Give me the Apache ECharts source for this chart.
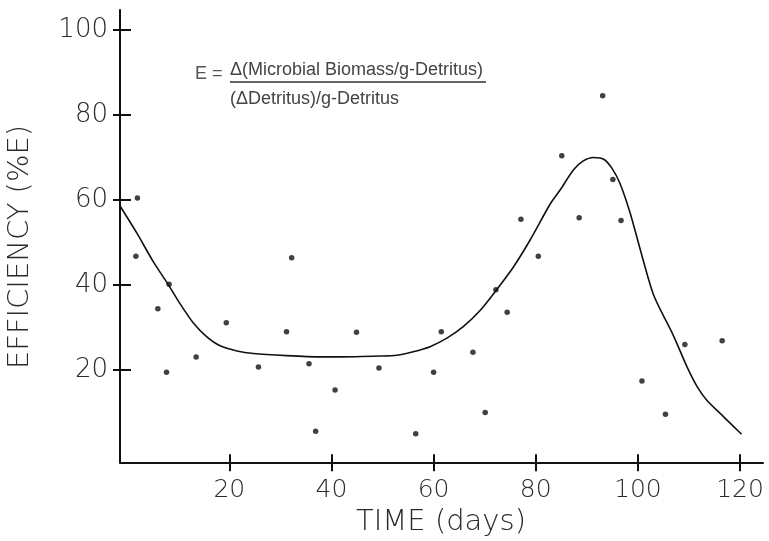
<!DOCTYPE html>
<html>
<head>
<meta charset="utf-8">
<script src="https://cdn.jsdelivr.net/npm/echarts@6/dist/echarts.min.js"></script>
<style>html,body{margin:0;padding:0;background:#fff;}#c{width:769px;height:541px;}</style>
</head>
<body>
<div id="c"></div>
<script>
const xTicks = [20, 40, 60, 80, 100, 120];
const yTicks = [20, 40, 60, 80, 100];
const scatterDays = [2.0, 1.7, 8.2, 6.0, 7.7, 13.5, 19.4, 32.2, 25.7, 31.2, 35.6, 36.9, 40.7, 44.9, 49.3, 56.5, 60.0, 61.5, 67.7, 70.1, 72.2, 74.4, 77.1, 80.5, 85.1, 88.5, 93.1, 95.1, 96.7, 100.8, 105.4, 109.2, 116.5];
const scatterEff = [60.5, 46.8, 40.2, 34.4, 19.5, 23.1, 31.1, 46.4, 20.7, 29.0, 21.5, 5.6, 15.3, 28.9, 20.5, 5.0, 19.5, 29.0, 24.2, 10.0, 38.9, 33.6, 55.5, 46.8, 70.4, 55.8, 84.5, 64.8, 55.2, 17.4, 9.6, 26.0, 26.9];
const curveDays = [-1.4, 1.9, 5.1, 8.2, 10.3, 13.0, 15.6, 18.2, 21.5, 24.7, 31.2, 37.8, 41.7, 49.5, 52.8, 56.0, 59.3, 62.6, 65.8, 69.1, 72.4, 75.6, 78.9, 82.8, 84.8, 87.4, 89.3, 91.3, 93.3, 94.9, 96.5, 98.5, 100.5, 103.1, 107.0, 109.6, 111.6, 113.5, 116.8, 120.3];
const curveEff = [58.6, 52.2, 45.5, 39.8, 35.7, 31.0, 27.8, 25.7, 24.5, 23.9, 23.4, 23.1, 23.1, 23.3, 23.5, 24.3, 25.5, 27.5, 30.2, 34.0, 39.0, 44.2, 50.6, 59.0, 62.4, 67.1, 69.2, 70.0, 69.6, 67.5, 63.9, 56.9, 48.2, 37.6, 28.0, 20.8, 16.1, 12.9, 9.0, 4.9];
const xName = 'TIME (days)';
const yName = 'EFFICIENCY (%E)';
const eqLeft = 'E =';
const eqNum = '\u0394(Microbial Biomass/g-Detritus)';
const eqDen = '(\u0394Detritus)/g-Detritus';

const FONT = '"DejaVu Sans", sans-serif';
const EQFONT = '"Liberation Sans", Arial, sans-serif';
const TXT = '#2a2a2a';
const INK = '#111';

const chart = echarts.init(document.getElementById('c'), null, {renderer: 'canvas'});
const X_MIN = -1.41, X_MAX = 124.5, Y_MIN = -1.7, Y_MAX = 104.7;
function xAxisBase(extra) {
  return Object.assign({
    type: 'value', min: X_MIN, max: X_MAX, gridIndex: 0, position: 'bottom',
    splitLine: {show: false}
  }, extra);
}
function yAxisBase(extra) {
  return Object.assign({
    type: 'value', min: Y_MIN, max: Y_MAX, gridIndex: 0, position: 'left',
    splitLine: {show: false}
  }, extra);
}
chart.setOption({
  animation: false,
  backgroundColor: '#fff',
  grid: {left: 120, right: 6, top: 10, bottom: 78.7, containLabel: false},
  xAxis: [
    xAxisBase({
      axisLine: {show: true, onZero: false, lineStyle: {color: INK, width: 2}},
      axisTick: {show: false},
      axisLabel: {show: true, customValues: xTicks, margin: 16, color: TXT, fontFamily: FONT, fontSize: 25, fontWeight: 200}
    }),
    xAxisBase({
      offset: 9,
      axisLine: {show: false, onZero: false},
      axisTick: {show: true, inside: true, length: 17, customValues: xTicks, lineStyle: {color: INK, width: 2}},
      axisLabel: {show: false}
    })
  ],
  yAxis: [
    yAxisBase({
      axisLine: {show: true, onZero: false, lineStyle: {color: INK, width: 2}},
      axisTick: {show: false},
      axisLabel: {show: true, customValues: yTicks, margin: 12, color: TXT, fontFamily: FONT, fontSize: 26, fontWeight: 200}
    }),
    yAxisBase({
      offset: 7,
      axisLine: {show: false, onZero: false},
      axisTick: {show: true, inside: true, length: 18, customValues: yTicks, lineStyle: {color: INK, width: 2}},
      axisLabel: {show: false}
    })
  ],
  graphic: [
    {type: 'text', x: 20, y: 247, rotation: Math.PI / 2, style: {text: yName, font: '200 29px ' + FONT, fill: TXT, align: 'center', verticalAlign: 'middle'}},
    {type: 'text', x: 441, y: 522, style: {text: xName, font: '200 29px ' + FONT, fill: TXT, align: 'center', verticalAlign: 'middle'}},
    {type: 'text', x: 195, y: 74, style: {text: eqLeft, font: '18px ' + EQFONT, fill: '#555', align: 'left', verticalAlign: 'middle'}},
    {type: 'text', x: 230, y: 70, style: {text: eqNum, font: '18px ' + EQFONT, fill: '#444', align: 'left', verticalAlign: 'middle'}},
    {type: 'line', shape: {x1: 230, y1: 82, x2: 486, y2: 82}, style: {stroke: '#333', lineWidth: 1.3}},
    {type: 'text', x: 230, y: 99, style: {text: eqDen, font: '18px ' + EQFONT, fill: '#444', align: 'left', verticalAlign: 'middle'}}
  ],
  series: [
    {
      type: 'line', xAxisIndex: 0, yAxisIndex: 0,
      data: curveDays.map((d, i) => [d, curveEff[i]]),
      smooth: 0.25, showSymbol: false, symbol: 'none',
      lineStyle: {color: INK, width: 1.6}, silent: true
    },
    {
      type: 'scatter', xAxisIndex: 0, yAxisIndex: 0,
      data: scatterDays.map((d, i) => [d, scatterEff[i]]),
      symbol: 'circle', symbolSize: 5.5,
      itemStyle: {color: INK}, silent: true
    }
  ]
});
</script>
</body>
</html>
